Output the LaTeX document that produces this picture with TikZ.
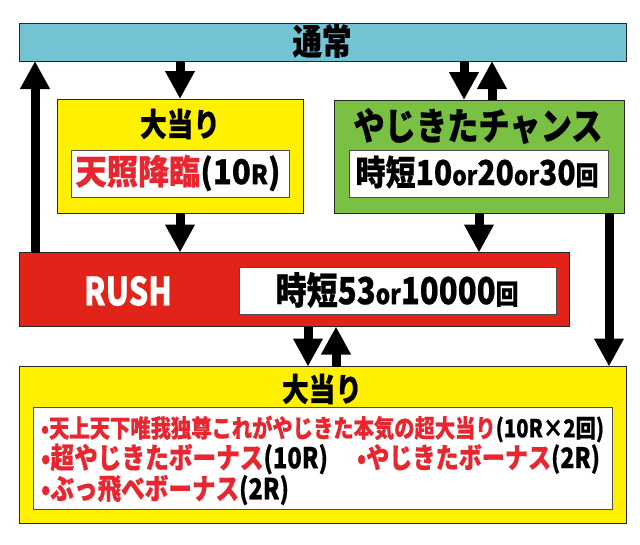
\documentclass[tikz,border=0pt]{standalone}
\usepackage{fontspec}
\usepackage{graphicx}
\setmainfont{Noto Sans CJK JP}[BoldFeatures={FakeBold=0.6}]
\usetikzlibrary{arrows.meta}
\definecolor{cblue}{HTML}{72C4D2}
\definecolor{cyel}{HTML}{FFF000}
\definecolor{cgreen}{HTML}{7AC143}
\definecolor{cred}{HTML}{E2231A}
\definecolor{tred}{HTML}{E8262F}
% width, font size, vertical stretch, text
\newcommand\tfit[4]{\scalebox{1}[#3]{\resizebox{#1pt}{!}{\fontsize{#2}{#2}\selectfont\bfseries #4}}}
\newcommand\smr[2]{{\fontsize{#1}{#1}\selectfont #2}}
\begin{document}
\begin{tikzpicture}[x=1pt,y=-1pt,
  box/.style={draw=black!85, line width=0.8pt, inner sep=0pt, outer sep=0pt, anchor=north west},
  wbox/.style={box, fill=white, draw=black!70},
  arr/.style={line width=9pt, -{Triangle[width=28pt,length=28pt]}},
  lbl/.style={inner sep=0pt, outer sep=0pt}]
\useasboundingbox[fill=white] (0,0) rectangle (640,544);
% boxes
\node[box, fill=cblue, minimum width=607pt, minimum height=38pt] (top) at (19.5,23) {};
\node[box, fill=cyel, minimum width=246pt, minimum height=114pt] (yl) at (57,99) {};
\node[wbox, minimum width=218pt, minimum height=47pt] (ylw) at (71,150) {};
\node[box, fill=cgreen, minimum width=290pt, minimum height=113pt] (gr) at (334,100) {};
\node[wbox, minimum width=259pt, minimum height=47pt] (grw) at (349,150) {};
\node[box, fill=cred, minimum width=549.5pt, minimum height=74pt] (rush) at (19.5,252.5) {};
\node[wbox, minimum width=317pt, minimum height=47pt] (rushw) at (239,267) {};
\node[box, fill=cyel, minimum width=607pt, minimum height=156.5pt] (bot) at (19.5,366.5) {};
\node[wbox, minimum width=578.5pt, minimum height=102pt] (botw) at (33.5,407) {};
% texts
\node[lbl] (t0) at (322,41) {\tfit{59}{26}{1.2}{通常}};
\node[lbl] (t1) at (180,124) {\tfit{80}{26}{1.2}{大当り}};
\node[lbl] (t2) at (178,173) {\tfit{205}{31}{1.1}{\textcolor{tred}{天照降臨}(10\smr{24}{R})}};
\node[lbl] (t3) at (478,126) {\tfit{249}{31}{1.2}{やじきたチャンス}};
\node[lbl] (t4) at (477,172) {\tfit{243}{29}{1.15}{時短10\smr{22}{or}20\smr{22}{or}30\smr{22}{回}}};
\node[lbl] (t5) at (128,291) {\tfit{88}{38}{1.27}{\textcolor{white}{RUSH}}};
\node[lbl] (t6) at (397,290) {\tfit{243}{30}{1.2}{時短53\smr{22}{or}10000\smr{22}{回}}};
\node[lbl] (t7) at (322,389) {\tfit{80}{26}{1.2}{大当り}};
\node[lbl, anchor=west] (l1) at (41,429) {\tfit{563}{22}{1.22}{\textcolor{tred}{•天上天下唯我独尊これがやじきた本気の超大当り}(10R×2回)}};
\node[lbl, anchor=west] (l2a) at (41,459) {\tfit{287}{22}{1.22}{\textcolor{tred}{•超やじきたボーナス}(10R)}};
\node[lbl, anchor=west] (l2b) at (357,459) {\tfit{243}{22}{1.22}{\textcolor{tred}{•やじきたボーナス}(2R)}};
\node[lbl, anchor=west] (l3) at (41,490) {\tfit{248}{22}{1.22}{\textcolor{tred}{•ぶっ飛べボーナス}(2R)}};
% helper coordinates
\coordinate (lx) at ([xshift=15.5pt]rush.north west);
\coordinate (gd) at ([xshift=-15pt]gr.north);
\coordinate (gu) at ([xshift=13pt]gr.north);
\coordinate (rx) at ([xshift=-15pt]gr.south east);
\coordinate (bd) at ([xshift=-15pt]bot.north);
\coordinate (bu) at ([xshift=13pt]bot.north);
% arrows
\draw[arr] (lx) -- (lx |- top.south);
\draw[arr] (yl.north |- top.south) -- (yl.north);
\draw[arr] (gd |- top.south) -- (gd);
\draw[arr] (gu) -- (gu |- top.south);
\draw[arr] (yl.south) -- (yl.south |- rush.north);
\draw[arr] (gr.south) -- (gr.south |- rush.north);
\draw[arr] (rx) -- (rx |- bot.north);
\draw[arr] (bd |- rush.south) -- (bd);
\draw[arr] (bu) -- (bu |- rush.south);
\end{tikzpicture}
\end{document}
